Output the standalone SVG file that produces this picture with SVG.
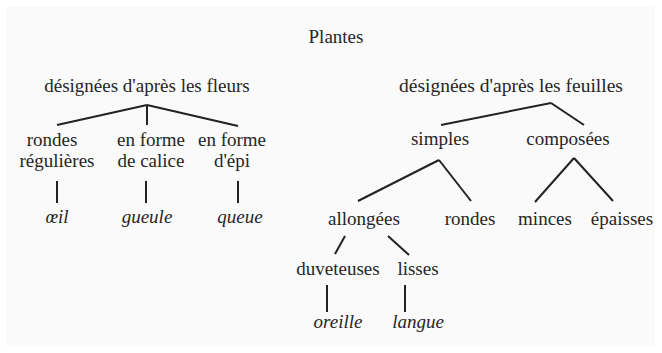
<svg xmlns="http://www.w3.org/2000/svg" width="662" height="353" viewBox="0 0 662 353">
<style>
text{font-family:"Liberation Serif","Times New Roman",serif;font-size:19px;fill:#262626;text-anchor:middle}
.i{font-style:italic}
#connectors line{stroke:#222;stroke-width:2;stroke-linecap:butt}
</style>
<rect x="0" y="0" width="662" height="353" fill="#ffffff"/>
<rect x="7" y="7" width="648" height="339" fill="#fafafa"/>
<g id="connectors">
<line x1="147" y1="105" x2="57" y2="125"/>
<line x1="147" y1="105" x2="147" y2="125"/>
<line x1="147" y1="105" x2="238" y2="126"/>
<line x1="57" y1="181" x2="57" y2="203"/>
<line x1="146" y1="181" x2="146" y2="203"/>
<line x1="238" y1="181" x2="238" y2="203"/>
<line x1="551" y1="103" x2="441" y2="125"/>
<line x1="551" y1="103" x2="584" y2="125"/>
<line x1="439" y1="160" x2="358" y2="201"/>
<line x1="439" y1="160" x2="471" y2="201"/>
<line x1="574" y1="158" x2="535" y2="202"/>
<line x1="574" y1="158" x2="613" y2="201"/>
<line x1="345" y1="236" x2="335" y2="254"/>
<line x1="388" y1="236" x2="409" y2="255"/>
<line x1="327" y1="285" x2="327" y2="312"/>
<line x1="405" y1="285" x2="405" y2="312"/>
</g>
<g id="plantes"><text x="336" y="43">Plantes</text></g>
<g id="fleurs"><text x="147" y="92">désignées d'après les fleurs</text></g>
<g id="rondes-regulieres"><text x="52" y="146">rondes</text><text x="57" y="167">régulières</text></g>
<g id="calice"><text x="151" y="146">en forme</text><text x="151" y="167">de calice</text></g>
<g id="epi"><text x="232" y="146">en forme</text><text x="232" y="167">d'épi</text></g>
<g id="oeil"><text class="i" x="57" y="223">œil</text></g>
<g id="gueule"><text class="i" x="147" y="223">gueule</text></g>
<g id="queue"><text class="i" x="240" y="223">queue</text></g>
<g id="feuilles"><text x="511" y="92" style="font-size:19.5px">désignées d'après les feuilles</text></g>
<g id="simples"><text x="440" y="145">simples</text></g>
<g id="composees"><text x="568" y="145">composées</text></g>
<g id="allongees"><text x="364" y="225">allongées</text></g>
<g id="rondes"><text x="470" y="225">rondes</text></g>
<g id="minces"><text x="545" y="225">minces</text></g>
<g id="epaisses"><text x="622" y="225">épaisses</text></g>
<g id="duveteuses"><text x="338" y="275">duveteuses</text></g>
<g id="lisses"><text x="418" y="275">lisses</text></g>
<g id="oreille"><text class="i" x="338" y="328">oreille</text></g>
<g id="langue"><text class="i" x="418" y="328">langue</text></g>
</svg>
